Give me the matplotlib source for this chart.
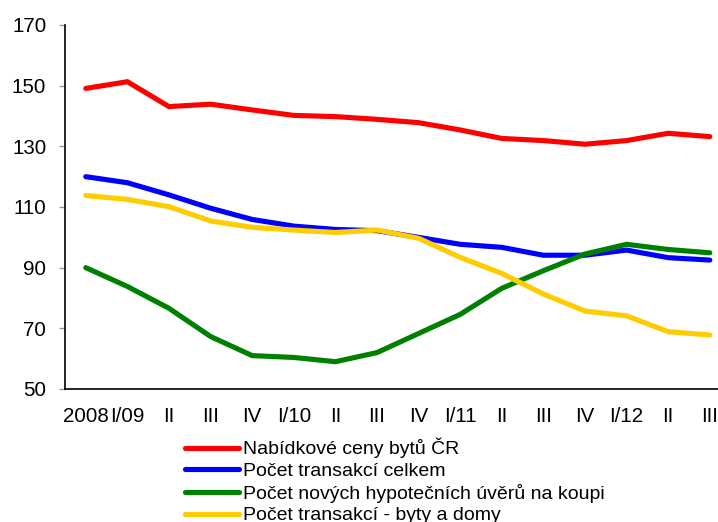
import matplotlib
matplotlib.use("Agg")
import matplotlib.pyplot as plt

plt.rcParams['font.family'] = ['Liberation Sans', 'DejaVu Sans']

# quarter labels
labels = ["2008", "I/09", "II", "III", "IV", "I/10", "II", "III", "IV",
          "I/11", "II", "III", "IV", "I/12", "II", "III"]

# index values
nabidkove_ceny = [149.1, 151.3, 143.1, 143.9, 142.0, 140.2, 139.8, 138.9,
                  137.8, 135.4, 132.6, 131.9, 130.7, 131.9, 134.3, 133.2]
transakce_celkem = [120.0, 118.0, 114.0, 109.6, 105.9, 103.7, 102.6, 102.2,
                    100.0, 97.7, 96.7, 94.1, 94.1, 95.8, 93.3, 92.5]
hypoteky = [90.0, 83.8, 76.6, 67.3, 61.0, 60.4, 59.0, 62.0,
            68.3, 74.6, 83.2, 89.0, 94.5, 97.7, 96.0, 94.9]
transakce_byty_domy = [113.8, 112.5, 110.1, 105.4, 103.3, 102.4, 101.6, 102.4,
                       99.7, 93.4, 88.1, 81.3, 75.7, 74.1, 68.9, 67.8]

series = [
    ("Nabídkové ceny bytů ČR", nabidkove_ceny, "#FF0000"),
    ("Počet transakcí celkem", transakce_celkem, "#0000FF"),
    ("Počet nových hypotečních úvěrů na koupi", hypoteky, "#008000"),
    ("Počet transakcí - byty a domy", transakce_byty_domy, "#FFCC00"),
]

fig = plt.figure(figsize=(7.18, 5.22), dpi=100)
ax = fig.add_axes([65 / 718, 1 - 389 / 522, 665.6 / 718, 364 / 522])

x = list(range(len(labels)))
for name, vals, col in series:
    ax.plot(x, vals, color=col, lw=3.7, label=name, solid_capstyle='round',
            solid_joinstyle='miter')

ax.set_xlim(-0.5, len(labels) - 0.5)
ax.set_ylim(50, 170)
ax.set_yticks(range(50, 171, 20))
ax.set_xticks(x)
ax.set_xticklabels(labels)

for s in ['top', 'right']:
    ax.spines[s].set_visible(False)
for s in ['left', 'bottom']:
    ax.spines[s].set_linewidth(1.2)
    ax.spines[s].set_color('black')

ax.tick_params(axis='y', length=4.5, width=1, color='#999999', pad=9,
               labelsize=14.8)
ax.tick_params(axis='x', length=0, pad=13, labelsize=14.8)

fig.legend(loc='upper left', bbox_to_anchor=(185 / 718, 1 - 438 / 522),
           frameon=False, fontsize=14, handlelength=2.8, handletextpad=0.2,
           labelspacing=0.2, borderpad=0, borderaxespad=0)

fig.savefig("out.png", dpi=100)
